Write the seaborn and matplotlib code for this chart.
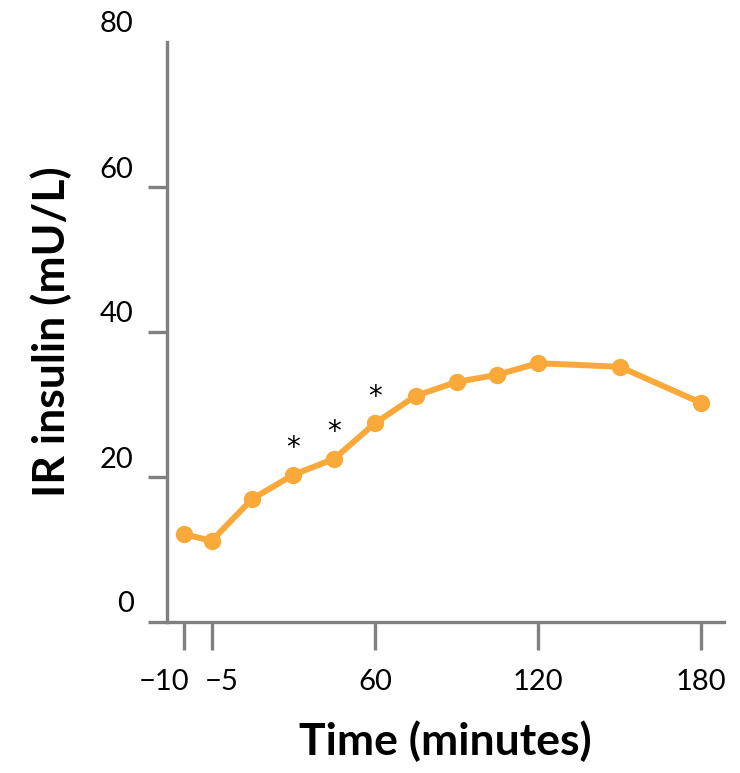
import matplotlib.pyplot as plt
import matplotlib.transforms as mtransforms
import seaborn as sns
import pandas as pd

# data
times = [-10, -5, 15, 30, 45, 60, 75, 90, 105, 120, 150, 180]
insulin = [12.1, 11.2, 17.0, 20.3, 22.5, 27.4, 31.2, 33.1, 34.1, 35.7, 35.2, 30.2]
signif_times = [30, 45, 60]
xtick_times = [-10, -5, 60, 120, 180]
xtick_labels = ["\u221210", "\u22125", "60", "120", "180"]
ytick_vals = [0, 20, 40, 60, 80]


def axis_pos(t):
    # pre-dose part of the time axis is squeezed (-10 and -5 sit close together)
    if t >= 0:
        return t + 1
    return (t + 5) * 2 + 1


df = pd.DataFrame({"time": times, "insulin": insulin})
df["pos"] = [axis_pos(t) for t in df["time"]]

sns.set_style("white")
plt.rcParams["font.family"] = ["Lato", "DejaVu Sans"]
plt.rcParams["text.color"] = "black"
plt.rcParams["axes.labelcolor"] = "black"
plt.rcParams["xtick.labelcolor"] = "black"
plt.rcParams["ytick.labelcolor"] = "black"

fig = plt.figure(figsize=(7.4, 7.73), dpi=100)
ax = fig.add_axes([167 / 740, 151 / 773, 557 / 740, 580 / 773])

orange = "#F9A93A"
sns.lineplot(data=df, x="pos", y="insulin", ax=ax, color=orange, linewidth=4.3,
             marker="o", markersize=12.5, markeredgewidth=0, markeredgecolor=orange)

for t in signif_times:
    v = insulin[times.index(t)]
    ax.annotate("*", (axis_pos(t), v), xytext=(0, 9), textcoords="offset points",
                ha="center", va="bottom", fontsize=20, color="black",
                family=["DejaVu Sans"])

ax.set_xlim(-15.4, 189.3)
ax.set_ylim(0, 80)

grey = "#808080"
for side in ["top", "right"]:
    ax.spines[side].set_visible(False)
for side in ["left", "bottom"]:
    ax.spines[side].set_color(grey)
    ax.spines[side].set_linewidth(2.4)

ax.set_xticks([axis_pos(t) for t in xtick_times])
ax.set_xticklabels(xtick_labels)
ax.set_yticks(ytick_vals)
ax.set_yticklabels([str(v) for v in ytick_vals])
ax.tick_params(axis="x", direction="out", length=20, width=2.4, color=grey,
               labelsize=21, pad=14, bottom=True)
ax.tick_params(axis="y", direction="out", length=14, width=2.4, color=grey,
               labelsize=21, pad=10, left=True)

# y tick labels sit above their ticks
up = mtransforms.ScaledTranslation(0, 0.2, fig.dpi_scale_trans)
for lbl in ax.get_yticklabels():
    lbl.set_transform(lbl.get_transform() + up)
for tk in ax.yaxis.get_major_ticks():
    if tk.get_loc() == 80:
        tk.tick1line.set_visible(False)

# spread the two crowded pre-dose labels apart
xlbls = ax.get_xticklabels()
xlbls[0].set_transform(xlbls[0].get_transform() + mtransforms.ScaledTranslation(-0.2, 0, fig.dpi_scale_trans))
xlbls[1].set_transform(xlbls[1].get_transform() + mtransforms.ScaledTranslation(0.1, 0, fig.dpi_scale_trans))

ax.set_xlabel("Time (minutes)", fontsize=32, fontweight="bold", labelpad=18)
ax.set_ylabel("IR insulin (mU/L)", fontsize=32, fontweight="bold", labelpad=20)
ax.grid(False)

fig.savefig("out.png", dpi=100)
